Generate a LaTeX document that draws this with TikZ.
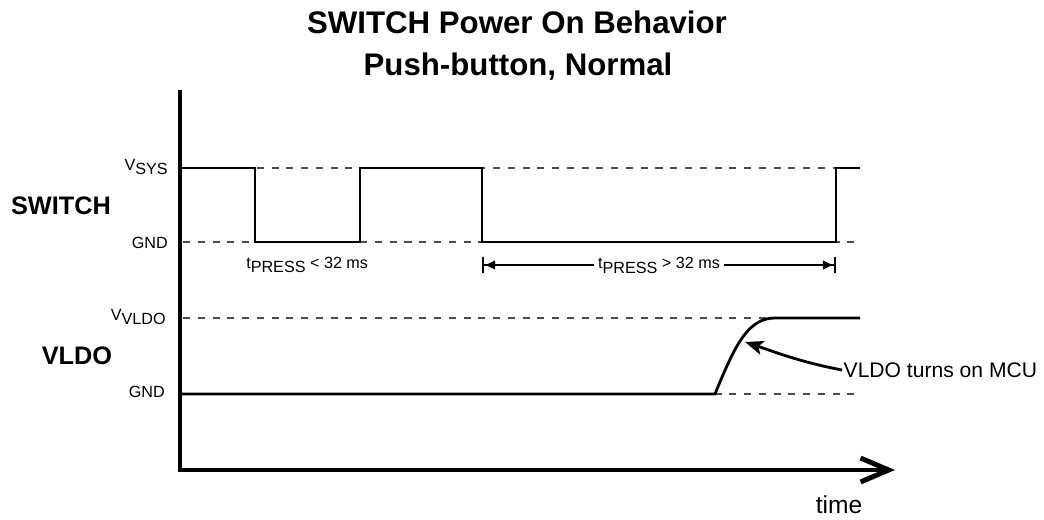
\documentclass[tikz,border=0pt]{standalone}
\usepackage{fontspec}
\setmainfont{Liberation Sans}
\usetikzlibrary{arrows.meta}
\newcommand{\subtxt}[2]{#1\raisebox{-3.5pt}{#2}}

\begin{document}
\begin{tikzpicture}[x=0.025cm, y=-0.025cm,
  sig/.style={line width=2pt, line join=miter},
  ref/.style={dash pattern=on 5pt off 5.5pt, line width=0.9pt, black!70},
  lvl/.style={anchor=base east, inner sep=0pt, font=\fontsize{11.5}{13}\selectfont},
  grp/.style={font=\fontsize{18}{21}\selectfont\bfseries},
  note/.style={font=\fontsize{11.5}{13}\selectfont},
  head/.style={anchor=base, font=\fontsize{22.2}{26}\selectfont\bfseries}]
\useasboundingbox (0,0) rectangle (1044,519);

\node[head] (title1) at (517,34) {SWITCH Power On Behavior};
\node[head] (title2) at (518,76) {Push-button, Normal};

% axes
\coordinate (top) at (180,90);
\coordinate (org) at (180,470);
\coordinate (tend) at (895,470);
\draw[line width=3.5pt, -{Straight Barb[length=20pt,width=17pt]}] (top) -- (org) -- (tend);
\node[anchor=base, font=\fontsize{17.5}{20}\selectfont] (time) at (839,513) {time};

% levels
\node[lvl] (vsys) at (168,170) {\subtxt{V}{SYS}};
\node[lvl] (gnd1) at (168,248) {GND};
\node[lvl] (vvldo) at (166,320) {\subtxt{V}{VLDO}};
\node[lvl] (gnd2) at (165,397) {GND};
\node[grp] (switch) at (61,206) {SWITCH};
\node[grp] (vldo) at (77,356) {VLDO};
\foreach \y in {168,242,318,394}
  \draw[ref] (183,\y) -- (860,\y);

% waveforms
\draw[sig] (180,168) -- (255,168) -- (255,242) -- (360,242) -- (360,168) -- (482,168)
  -- (482,242) -- (836,242) -- (836,168) -- (860,168);
\draw[sig] (180,394) -- (715,394) .. controls (735,345) and (748,318) .. (775,318) -- (860,318);

% press times
\node[note, anchor=base west, inner sep=0pt] (short) at (246,268) {\subtxt{t}{PRESS} < 32 ms};
\coordinate (d1) at (482,265);
\coordinate (d2) at (836,265);
\draw[line width=1.4pt, {Bar[width=12pt]Latex[length=8pt,width=7pt]}-{Latex[length=8pt,width=7pt]Bar[width=12pt]}]
  (d1) -- node[note, fill=white, inner xsep=3pt, inner ysep=0pt] (long) {\subtxt{t}{PRESS} > 32 ms} (d2);

% annotation
\node[anchor=west, inner sep=1pt, font=\fontsize{15}{18}\selectfont] (mcu) at (842,370) {VLDO turns on MCU};
\coordinate (rise) at (745,342);
\draw[line width=2pt, -{Stealth[length=13pt,width=10pt,inset=3pt]}] (mcu.west) .. controls (800,362) and (775,352) .. (rise);
\end{tikzpicture}
\end{document}
